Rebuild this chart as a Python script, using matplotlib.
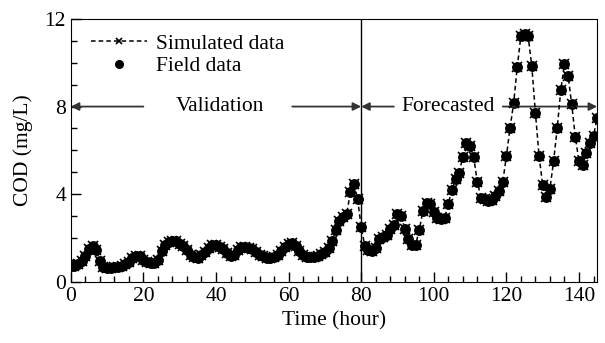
import numpy as np
import matplotlib.pyplot as plt
from matplotlib.ticker import MultipleLocator

# === DATA ===
hours = np.arange(0, 146)

cod_validation = [
    0.72, 0.72, 0.80, 0.95, 1.20, 1.50, 1.62, 1.45, 0.95, 0.70,
    0.65, 0.64, 0.66, 0.70, 0.75, 0.82, 0.90, 1.10, 1.20, 1.17,
    1.00, 0.92, 0.85, 0.88, 1.02, 1.40, 1.70, 1.82, 1.86, 1.85,
    1.75, 1.63, 1.45, 1.25, 1.12, 1.10, 1.22, 1.35, 1.55, 1.68,
    1.68, 1.60, 1.52, 1.30, 1.17, 1.25, 1.45, 1.60, 1.60, 1.55,
    1.48, 1.38, 1.25, 1.17, 1.10, 1.10, 1.15, 1.25, 1.40, 1.60,
    1.72, 1.78, 1.65, 1.40, 1.25, 1.15, 1.14, 1.14, 1.20, 1.28,
    1.35, 1.55, 1.86, 2.36, 2.80, 2.95, 3.08, 4.08, 4.49, 3.80,
    2.50,
]
cod_forecast = [
    1.65, 1.45, 1.40, 1.55, 1.97, 2.05, 2.16, 2.40, 2.58, 3.08,
    3.00, 2.43, 1.97, 1.70, 1.70, 2.36, 3.25, 3.60, 3.55, 3.19,
    2.90, 2.85, 2.93, 3.57, 4.20, 4.69, 4.99, 5.71, 6.34, 6.20,
    5.68, 4.56, 3.85, 3.77, 3.70, 3.72, 3.90, 4.15, 4.56, 5.73,
    7.01, 8.16, 9.81, 11.23, 11.30, 11.20, 9.84, 7.71, 5.76, 4.41,
    3.89, 4.26, 5.50, 7.01, 8.77, 9.93, 9.40, 8.10, 6.60, 5.50,
    5.34, 5.87, 6.34, 6.67, 7.47,
]
cod_field = cod_validation + cod_forecast
cod_simulated = cod_field  # the two series overlap in the figure

split_hour = 80

# === STYLE ===
plt.rcParams['font.family'] = ['Liberation Serif', 'DejaVu Serif']
plt.rcParams['font.size'] = 15.5

fig = plt.figure(figsize=(6.05, 3.43), dpi=100)
ax = fig.add_axes([0.117, 0.178, 0.870, 0.767])

ax.plot(hours, cod_field, 'o', color='black', ms=6.8, label='Field data', zorder=3)
ax.plot(hours, cod_simulated, color='black', ls=(0, (3, 2)), lw=1.1,
        marker='x', ms=6.5, mew=1.2, label='Simulated data', zorder=4)

ax.axvline(split_hour, color='black', lw=1.0)

# arrows for the two periods
arrow_kw = dict(arrowstyle='-|>', color='#333333', lw=1.3, mutation_scale=12,
                shrinkA=0, shrinkB=0)
ax.annotate('', xy=(0, 8), xytext=(20, 8), arrowprops=arrow_kw)
ax.annotate('', xy=(split_hour, 8), xytext=(61, 8), arrowprops=arrow_kw)
ax.text(41, 8, 'Validation', ha='center', va='center')
ax.annotate('', xy=(split_hour, 8), xytext=(89, 8), arrowprops=arrow_kw)
ax.annotate('', xy=(145, 8), xytext=(119, 8), arrowprops=arrow_kw)
ax.text(104, 8, 'Forecasted', ha='center', va='center')

ax.set_xlim(0, 145)
ax.set_ylim(0, 12)
ax.xaxis.set_major_locator(MultipleLocator(20))
ax.xaxis.set_minor_locator(MultipleLocator(4))
ax.yaxis.set_major_locator(MultipleLocator(4))
ax.yaxis.set_minor_locator(MultipleLocator(1))
ax.tick_params(which='both', direction='in', top=False, right=False)
ax.tick_params(which='major', length=7, width=1)
ax.tick_params(which='minor', length=4, width=1)

ax.set_xlabel('Time (hour)')
ax.set_ylabel('COD (mg/L)', labelpad=8)

# legend: simulated first, small dot for field data
handles, labels = ax.get_legend_handles_labels()
leg = ax.legend(handles[::-1], labels[::-1], loc='upper left', frameon=False,
                bbox_to_anchor=(0.01, 1.0), handlelength=2.6, handletextpad=0.4,
                labelspacing=0.1, borderaxespad=0.3)
leg.legend_handles[0].set_markersize(5)
leg.legend_handles[1].set_markersize(5.5)

fig.savefig('out.png', dpi=100)
